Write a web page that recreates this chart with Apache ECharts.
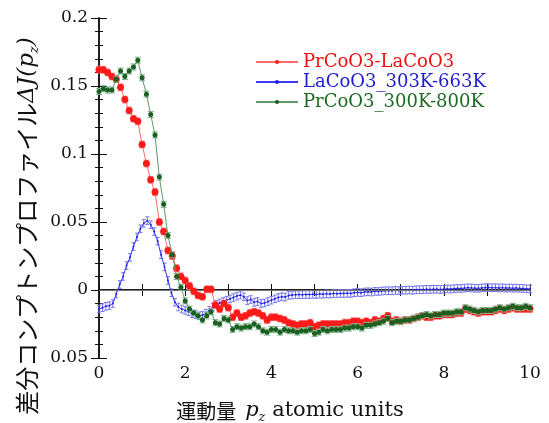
<!DOCTYPE html>
<html>
<head>
<meta charset="utf-8">
<script src="https://cdn.jsdelivr.net/npm/echarts@6/dist/echarts.min.js"></script>
<style>
  html, body { margin: 0; padding: 0; background: #fff; }
  #chart { width: 549px; height: 423px; }
</style>
</head>
<body>
<div id="chart"></div>
<script>
// 差分コンプトンプロファイル ΔJ(pz), pz in atomic units
let seriesNames = ['PrCoO3-LaCoO3', 'LaCoO3_303K-663K', 'PrCoO3_300K-800K']

// PrCoO3-LaCoO3, pz = 0 .. 10 step 0.1
let redStep = 0.1
let redValues = [
  0.162, 0.162, 0.160, 0.157, 0.155, 0.149, 0.140, 0.132, 0.126, 0.124,
  0.107, 0.093, 0.081, 0.072, 0.050, 0.043, 0.029, 0.025, 0.016, 0.010,
  0.007, 0.003, -0.001, -0.004, -0.005, 0.0005, 0.0005, -0.011, -0.014, -0.010,
  -0.013, -0.020, -0.017, -0.020, -0.019, -0.017, -0.016, -0.017, -0.019, -0.022,
  -0.020, -0.020, -0.021, -0.022, -0.024, -0.025, -0.026, -0.025, -0.025, -0.024,
  -0.027, -0.026, -0.025, -0.025, -0.025, -0.025, -0.025, -0.024, -0.024, -0.023,
  -0.023, -0.024, -0.023, -0.024, -0.022, -0.023, -0.021, -0.019, -0.023, -0.022,
  -0.023, -0.022, -0.022, -0.021, -0.020, -0.019, -0.020, -0.020, -0.019, -0.019,
  -0.018, -0.018, -0.018, -0.017, -0.017, -0.014, -0.015, -0.016, -0.017, -0.016,
  -0.016, -0.016, -0.015, -0.014, -0.015, -0.014, -0.013, -0.014, -0.014, -0.014,
  -0.014
]

// PrCoO3_300K-800K, pz = 0 .. 10 step 0.1
let greenStep = 0.1
let greenValues = [
  0.146, 0.148, 0.147, 0.147, 0.155, 0.161, 0.157, 0.161, 0.164, 0.169,
  0.156, 0.144, 0.129, 0.114, 0.083, 0.063, 0.040, 0.026, 0.010, 0.002,
  -0.008, -0.014, -0.017, -0.019, -0.022, -0.019, -0.016, -0.024, -0.025, -0.021,
  -0.022, -0.029, -0.027, -0.028, -0.027, -0.027, -0.025, -0.027, -0.030, -0.031,
  -0.029, -0.029, -0.031, -0.029, -0.030, -0.030, -0.031, -0.030, -0.030, -0.029,
  -0.032, -0.031, -0.029, -0.030, -0.029, -0.029, -0.029, -0.028, -0.028, -0.027,
  -0.027, -0.028, -0.026, -0.026, -0.025, -0.024, -0.023, -0.021, -0.024, -0.023,
  -0.023, -0.022, -0.022, -0.021, -0.020, -0.019, -0.018, -0.019, -0.018, -0.018,
  -0.017, -0.017, -0.017, -0.016, -0.016, -0.013, -0.014, -0.015, -0.016, -0.015,
  -0.015, -0.015, -0.014, -0.013, -0.014, -0.013, -0.012, -0.013, -0.013, -0.012,
  -0.013
]

// LaCoO3_303K-663K, pz = 0 .. 10 step 0.08
let blueStep = 0.08
let blueValues = [
  -0.014, -0.013, -0.012, -0.0115, -0.010, -0.003, 0.004, 0.010, 0.018, 0.024,
  0.032, 0.039, 0.045, 0.049, 0.051, 0.048, 0.043, 0.036, 0.026, 0.017,
  0.007, -0.002, -0.009, -0.0125, -0.014, -0.015, -0.016, -0.0175, -0.018, -0.019,
  -0.0185, -0.017, -0.015, -0.0125, -0.0105, -0.0095, -0.0085, -0.0075, -0.0065, -0.0055,
  -0.0045, -0.0037, -0.005, -0.0078, -0.007, -0.009, -0.0085, -0.010, -0.0095, -0.0085,
  -0.0075, -0.0065, -0.0055, -0.005, -0.0052, -0.004, -0.0037, -0.0035, -0.0034, -0.0035,
  -0.0033, -0.0034, -0.0032, -0.0033, -0.003, -0.0031, -0.0028, -0.003, -0.0026, -0.0027,
  -0.0025, -0.0026, -0.0024, -0.0025, -0.002, -0.0018, -0.002, -0.0015, -0.0013, -0.0015,
  -0.001, -0.0011, -0.0008, -0.0006, -0.0005, -0.0006, -0.0003, -0.0004, -0.0002, -0.0001,
  0, -0.0002, 0.0001, 0.0002, 0.0003, 0.0005, 0.0004, 0.0006, 0.0005, 0.0004,
  0.0006, 0.0008, 0.0007, 0.001, 0.0012, 0.0011, 0.0014, 0.0016, 0.0015, 0.0013,
  0.0012, 0.0015, 0.0017, 0.0018, 0.0016, 0.0017, 0.0015, 0.0016, 0.0014, 0.0015,
  0.0013, 0.0014, 0.0012, 0.0011, 0.0009, 0.0008
]

// error bar half heights
let redErr = 0.0025
let greenErr = 0.0022
let blueErr = 0.0028

let yTicks = [-0.05, 0, 0.05, 0.1, 0.15, 0.2]
let xTicks = [0, 2, 4, 6, 8, 10]

let serif = 'DejaVu Serif'

function toPoints(values, step) {
  let arr = []
  for (let i = 0, l = values.length; i < l; i++) {
    arr.push([+(i * step).toFixed(3), values[i]])
  }
  return arr
}

function toBars(values, step, err) {
  let arr = []
  for (let i = 0, l = values.length; i < l; i++) {
    let x = +(i * step).toFixed(3)
    arr.push([x, values[i] - err, values[i] + err])
  }
  return arr
}

function errRender(color, cap) {
  return function (params, api) {
    let x = api.value(0)
    let lo = api.coord([x, api.value(1)])
    let hi = api.coord([x, api.value(2)])
    let style = { stroke: color, lineWidth: 1 }
    return {
      type: 'group',
      children: [
        { type: 'line', shape: { x1: hi[0], y1: hi[1], x2: lo[0], y2: lo[1] }, style: style },
        { type: 'line', shape: { x1: hi[0] - cap, y1: hi[1], x2: hi[0] + cap, y2: hi[1] }, style: style },
        { type: 'line', shape: { x1: lo[0] - cap, y1: lo[1], x2: lo[0] + cap, y2: lo[1] }, style: style }
      ]
    }
  }
}

let chart = echarts.init(document.getElementById('chart'))

let axisLine = { show: true, lineStyle: { color: '#111', width: 1.5 } }

let option = {
  backgroundColor: '#fff',
  animation: false,
  grid: { left: 99, right: 19, top: 18, bottom: 65 },
  legend: {
    orient: 'vertical',
    left: 250,
    top: 48,
    itemWidth: 42,
    itemHeight: 5,
    itemGap: 2,
    textStyle: { fontFamily: serif, fontSize: 18, lineHeight: 15 },
    data: [
      { name: seriesNames[0], textStyle: { color: '#f01010' } },
      { name: seriesNames[1], textStyle: { color: '#1c1cd0' } },
      { name: seriesNames[2], textStyle: { color: '#1d6b23' } }
    ]
  },
  xAxis: [{
    type: 'value', min: 0, max: 10, interval: 1, position: 'bottom',
    axisLine: axisLine,
    axisTick: { inside: true, length: 6, lineStyle: { color: '#111' } },
    axisLabel: {
      margin: 7, color: '#111', fontFamily: serif, fontSize: 17,
      formatter: v => xTicks.indexOf(v) >= 0 ? String(v) : ''
    },
    splitLine: { show: false }
  }, {
    type: 'value', min: 0, max: 10, interval: 1, position: 'top',
    axisLine: axisLine,
    axisTick: { inside: true, length: 6, lineStyle: { color: '#111' } },
    axisLabel: { show: false },
    splitLine: { show: false }
  }],
  yAxis: [{
    type: 'value', min: -0.05, max: 0.2, interval: 0.05, position: 'left',
    axisLine: axisLine,
    axisTick: { inside: true, length: 8, lineStyle: { color: '#111' } },
    minorTick: { show: true, splitNumber: 5, length: 4, lineStyle: { color: '#111' } },
    axisLabel: {
      margin: 11, color: '#111', fontFamily: serif, fontSize: 17,
      // the source figure prints the lowest tick without its sign
      formatter: v => String(+Math.abs(v).toFixed(2))
    },
    splitLine: { show: false }
  }, {
    type: 'value', min: -0.05, max: 0.2, interval: 0.05, position: 'right',
    axisLine: axisLine,
    axisTick: { inside: true, length: 8, lineStyle: { color: '#111' } },
    minorTick: { show: true, splitNumber: 5, length: 4, lineStyle: { color: '#111' } },
    axisLabel: { show: false },
    splitLine: { show: false }
  }],
  graphic: [{
    type: 'text',
    x: 27, y: 226,
    rotation: Math.PI / 2,
    style: {
      text: '{jp|差分コンプトンプロファイル}{it|ΔJ(p}{sub|z}{it|)}',
      align: 'center', verticalAlign: 'middle', fill: '#111',
      rich: {
        jp: { fontFamily: 'Noto Sans CJK JP', fontSize: 24, lineHeight: 28, verticalAlign: 'middle', fill: '#111' },
        it: { fontFamily: serif, fontStyle: 'italic', fontSize: 23, lineHeight: 28, verticalAlign: 'middle', fill: '#111' },
        sub: { fontFamily: serif, fontStyle: 'italic', fontSize: 13, lineHeight: 28, verticalAlign: 'bottom', fill: '#111' }
      }
    }
  }, {
    type: 'text',
    x: 290, y: 411,
    style: {
      text: '{jp|運動量  }{it|p}{sub|z}{rm| atomic units}',
      align: 'center', verticalAlign: 'middle', fill: '#111',
      rich: {
        jp: { fontFamily: 'Noto Sans CJK JP', fontSize: 20, lineHeight: 26, verticalAlign: 'middle', fill: '#111' },
        it: { fontFamily: serif, fontStyle: 'italic', fontSize: 21, lineHeight: 26, verticalAlign: 'middle', fill: '#111' },
        sub: { fontFamily: serif, fontStyle: 'italic', fontSize: 13, lineHeight: 26, verticalAlign: 'bottom', fill: '#111' },
        rm: { fontFamily: serif, fontSize: 21, lineHeight: 26, verticalAlign: 'middle', fill: '#111' }
      }
    }
  }],
  series: [{
    name: 'blueErr', type: 'custom', silent: true, z: 2,
    renderItem: errRender('#7878f0', 2),
    encode: { x: 0, y: [1, 2] },
    data: toBars(blueValues, blueStep, blueErr)
  }, {
    name: seriesNames[1], type: 'line', z: 3,
    data: toPoints(blueValues, blueStep),
    symbol: 'circle', symbolSize: 2,
    itemStyle: { color: '#2020e0' },
    lineStyle: { color: '#3a3af0', width: 1 },
    markLine: {
      silent: true, symbol: 'none', label: { show: false },
      lineStyle: { color: '#777', width: 1, type: 'solid' },
      data: [{ yAxis: 0 }]
    }
  }, {
    name: 'redErr', type: 'custom', silent: true, z: 4,
    renderItem: errRender('#ff9090', 3),
    encode: { x: 0, y: [1, 2] },
    data: toBars(redValues, redStep, redErr)
  }, {
    name: seriesNames[0], type: 'line', z: 5,
    data: toPoints(redValues, redStep),
    symbol: 'circle', symbolSize: 7,
    itemStyle: { color: '#ff1a1a' },
    lineStyle: { color: '#ff6a6a', width: 1 }
  }, {
    name: 'greenErr', type: 'custom', silent: true, z: 6,
    renderItem: errRender('#7fb08a', 3),
    encode: { x: 0, y: [1, 2] },
    data: toBars(greenValues, greenStep, greenErr)
  }, {
    name: seriesNames[2], type: 'line', z: 7,
    data: toPoints(greenValues, greenStep),
    symbol: 'circle', symbolSize: 5,
    itemStyle: { color: '#17601f' },
    lineStyle: { color: '#5f9a68', width: 1 }
  }]
}

chart.setOption(option)
</script>
</body>
</html>
